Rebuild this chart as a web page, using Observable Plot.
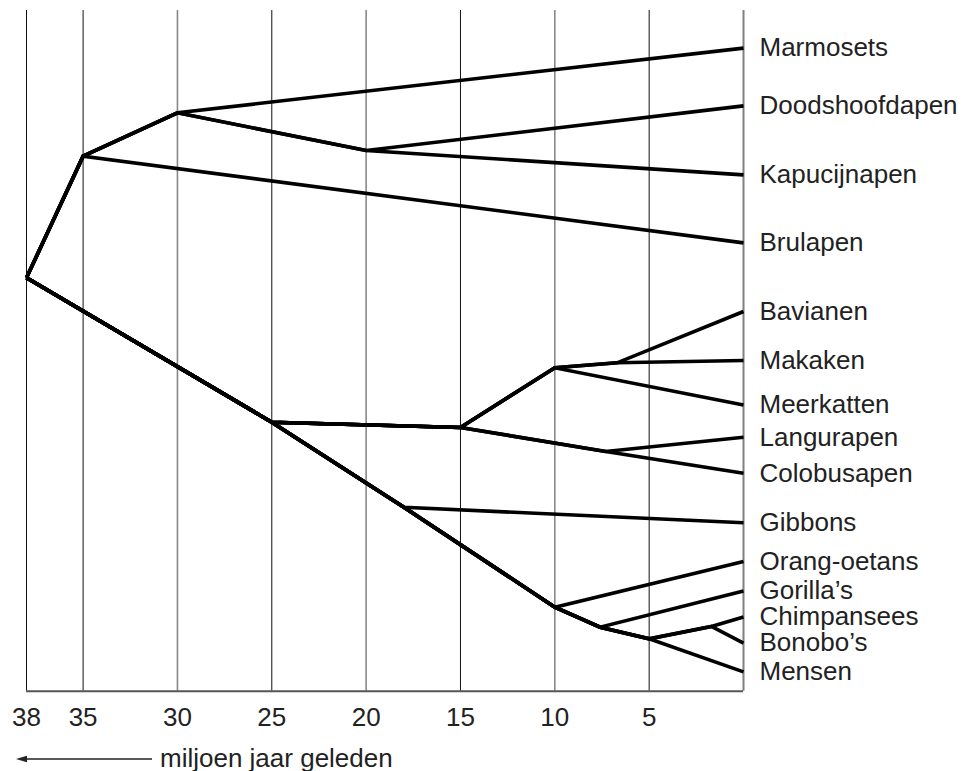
<!DOCTYPE html>
<html>
<head>
<meta charset="utf-8">
<script src="https://cdn.jsdelivr.net/npm/d3@7"></script>
<script src="https://cdn.jsdelivr.net/npm/@observablehq/plot@0.6"></script>
<style>
  html, body { margin: 0; padding: 0; background: #fff; }
  #chart svg { display: block; }
</style>
</head>
<body>
<div id="chart"></div>
<svg id="caption" width="965" height="31" style="display:block">
  <line x1="22" y1="19" x2="152" y2="19" stroke="#222" stroke-width="1.4"></line>
  <path d="M16,19 L27,15.8 L27,22.2 Z" fill="#222"></path>
  <text x="160" y="26.5" font-family="'Liberation Sans', Arial, sans-serif" font-size="26" fill="#222">miljoen jaar geleden</text>
</svg>
<script>
// Tick labels (millions of years ago) and grid lines
const tickLabels = [38, 35, 30, 25, 20, 15, 10, 5];
const darkGrid = [38, 35, 25, 15, 5];
const greyGrid = [30, 20, 10];

// Tree nodes: name, time (My ago), vertical position, parent
const nodeNames = [
  "wortel", "n35", "n30", "n20", "n25", "n15", "n10a", "n7a", "n7b", "n18", "n10b", "n8", "n5", "n2",
  "Marmosets", "Doodshoofdapen", "Kapucijnapen", "Brulapen", "Bavianen", "Makaken", "Meerkatten",
  "Langurapen", "Colobusapen", "Gibbons", "Orang-oetans", "Gorilla’s", "Chimpansees", "Bonobo’s", "Mensen"
];
const nodeTime = [
  38, 35, 30, 20, 25, 15, 10, 6.7, 7.3, 18, 10, 7.6, 5, 1.7,
  0, 0, 0, 0, 0, 0, 0, 0, 0, 0, 0, 0, 0, 0, 0
];
const nodePos = [
  277.3, 155.7, 112.3, 150, 421.7, 427, 367.3, 362.3, 451, 506.7, 606.7, 626.7, 638.3, 626,
  47.6, 105.4, 174.4, 242.4, 311, 360, 404.4, 436.8, 472.8, 522.3, 561, 590.4, 616.6, 642.6, 671.4
];
const nodeParent = [
  null, "wortel", "n35", "n30", "wortel", "n25", "n15", "n10a", "n15", "n25", "n18", "n10b", "n8", "n5",
  "n30", "n20", "n20", "n35", "n7a", "n7a", "n10a",
  "n7b", "n7b", "n18", "n10b", "n8", "n2", "n2", "n5"
];

const idx = new Map(nodeNames.map((n, i) => [n, i]));
const leaves = nodeNames.map((n, i) => i).filter(i => nodeTime[i] === 0);

// Build one polyline per leaf, from the root to the leaf
const paths = [];
for (const li of leaves) {
  const chain = [];
  let cur = li;
  while (cur !== undefined && cur !== null) {
    chain.push(cur);
    const p = nodeParent[cur];
    cur = p === null ? null : idx.get(p);
  }
  chain.reverse().forEach(i => paths.push({leaf: nodeNames[li], t: nodeTime[i], pos: nodePos[i]}));
}
const leafData = leaves.map(i => ({name: nodeNames[i], t: nodeTime[i], pos: nodePos[i]}));

const font = "'Liberation Sans', Arial, sans-serif";

const chart = Plot.plot({
  width: 965,
  height: 740,
  marginLeft: 26,
  marginRight: 222,
  marginTop: 10,
  marginBottom: 49.3,
  style: {fontFamily: font, fontSize: "26px", color: "#222", background: "#fff", overflow: "visible"},
  x: {domain: [38, 0]},
  y: {domain: [10, 690.7], reverse: true, axis: null},
  marks: [
    Plot.ruleX(darkGrid, {stroke: "#111", strokeWidth: 1}),
    Plot.ruleX(greyGrid, {stroke: "#888", strokeWidth: 1.6}),
    Plot.ruleX([0], {stroke: "#808080", strokeWidth: 2}),
    Plot.ruleY([690.7], {x1: 38, x2: 0, stroke: "#555", strokeWidth: 2}),
    Plot.line(paths, {
      x: "t", y: "pos", z: "leaf",
      stroke: "#000", strokeWidth: 3.6,
      strokeLinejoin: "miter", strokeLinecap: "butt", strokeMiterlimit: 10
    }),
    Plot.text(leafData, {
      x: "t", y: "pos", text: "name",
      textAnchor: "start", dx: 16, fontSize: 26, fill: "#222"
    }),
    Plot.axisX({
      ticks: tickLabels, tickSize: 0, tickPadding: 16, label: null,
      fontSize: 26, fill: "#222", tickFormat: d => String(d)
    })
  ]
});
document.getElementById("chart").appendChild(chart);
</script>
</body>
</html>
